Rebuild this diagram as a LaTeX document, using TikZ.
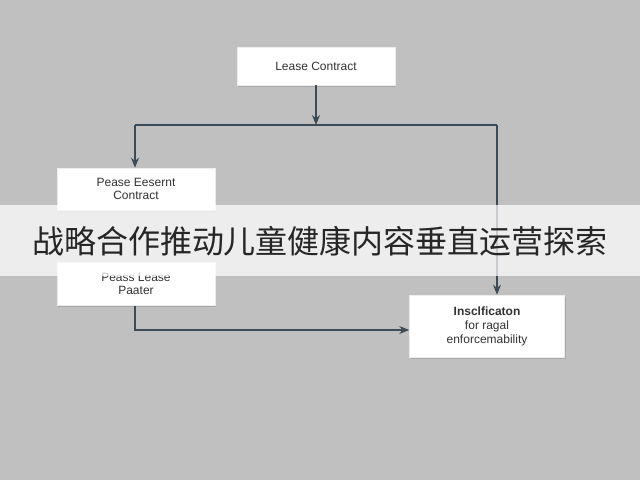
\documentclass[tikz,border=0pt]{standalone}
\usepackage{fontspec}
\setmainfont{Liberation Sans}
\newfontfamily\cjk{Noto Sans CJK SC}
\usetikzlibrary{arrows.meta,shadows}
\definecolor{bg}{RGB}{192,192,192}
\definecolor{ln}{RGB}{60,75,88}
\begin{document}
\begin{tikzpicture}[x=1pt,y=-1pt,
  box/.style={draw=white!85!gray,fill=white,line width=0.6pt,drop shadow={shadow xshift=1pt,shadow yshift=-1.5pt,opacity=0.35},align=center,font=\fontsize{12}{13}\selectfont,text=black!80},
  con/.style={draw=ln,line width=1.1pt},
  arr/.style={con,-{Stealth[length=10pt,width=8pt]}}]
\fill[bg] (0,0) rectangle (640,480);
\useasboundingbox (0,0) rectangle (640,480);
\node[box,minimum width=158pt,minimum height=38pt] (top) at (316,66) {Lease Contract};
\node[box,minimum width=158pt,minimum height=42pt] (l1) at (136,189) {Pease Eesernt\\Contract};
\node[box,minimum width=158pt,minimum height=43pt] (l2) at (136,284) {Peass Lease\\Paater};
\node[box,minimum width=155pt,minimum height=62pt,font=\fontsize{12}{14}\selectfont] (r) at (487,326) {\textbf{Insclficaton}\\for ragal\\enforcemability};
\coordinate (j) at (316,125);
\coordinate (jl) at (135,125);
\coordinate (jr) at (497,125);
\coordinate (bl) at (135,330);
\draw[arr] (top) -- (j);
\draw[con] (jl) -- (jr);
\draw[arr] (jl) -- (l1.north -| jl);
\draw[arr] (jr) -- (r.north -| jr);
\draw[arr] (l2.south -| bl) -- (bl) -- (r.west |- bl);
\fill[white,opacity=0.72] (0,205) rectangle (640,276);
\node[font=\cjk\fontsize{32}{33}\selectfont,text=black!85] (title) at (320,241) {战略合作推动儿童健康内容垂直运营探索};
\end{tikzpicture}
\end{document}
